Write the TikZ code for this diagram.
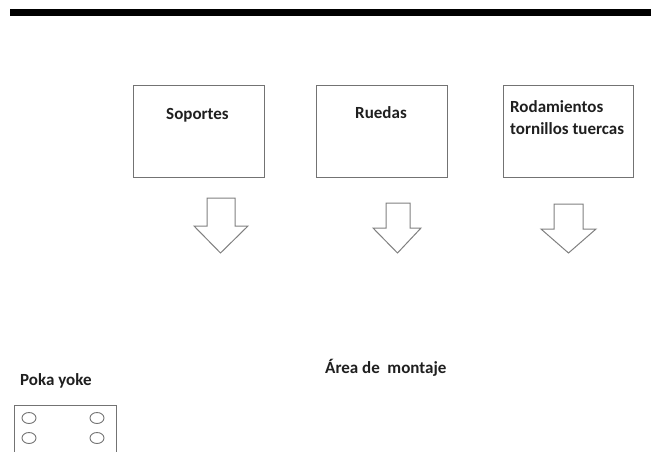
\documentclass[tikz,border=0pt]{standalone}
\usepackage{fontspec}
\setmainfont{Carlito}
\begin{document}
\begin{tikzpicture}[x=1pt,y=-1pt,
  boxst/.style={draw=black!55,line width=1pt,rectangle,inner sep=0pt},
  lbl/.style={font=\fontsize{17}{22}\selectfont\bfseries,text=black!88,inner sep=0pt},
  barrow/.style={draw=black!50,line width=1pt,fill=white,line join=miter}]
\useasboundingbox (0,0) rectangle (651,451);
\fill[black] (10,9) rectangle (651,16);
% boxes
\node[boxst,minimum width=131pt,minimum height=92pt] (b1) at (198.5,131) {};
\node[boxst,minimum width=131pt,minimum height=92pt] (b2) at (381.5,131) {};
\node[boxst,minimum width=130pt,minimum height=92pt] (b3) at (568,131) {};
\node[lbl] (t1) at (197.5,115) {Soportes};
\node[lbl] (t2) at (381,113) {Ruedas};
\node[lbl,anchor=north west,align=left] (t3) at (510,100) {Rodamientos\\tornillos tuercas};
% block arrows
\draw[barrow] (207,198) -- (235,198) -- (235,226) -- (248,226) -- (220.5,253) -- (194,226) -- (207,226) -- cycle;
\draw[barrow] (386,203) -- (410,203) -- (410,228) -- (421,228) -- (397.5,253) -- (373,228) -- (386,228) -- cycle;
\draw[barrow] (554,204) -- (583,204) -- (583,229) -- (596,229) -- (568.5,253) -- (541,229) -- (554,229) -- cycle;
% labels
\node[lbl,anchor=west] (area) at (325,368) {Área de\ \ montaje};
\node[lbl,anchor=west] (poka) at (20,381) {Poka yoke};
% poka yoke fixture
\draw[boxst] (14,455) -- (14,405) -- (116,405) -- (116,455);
\foreach \cx in {29,97}{
  \foreach \cy in {418,438}{
    \draw[draw=black!55,line width=0.9pt] (\cx,\cy) ellipse (7pt and 5.5pt);
  }
}
\end{tikzpicture}
\end{document}
